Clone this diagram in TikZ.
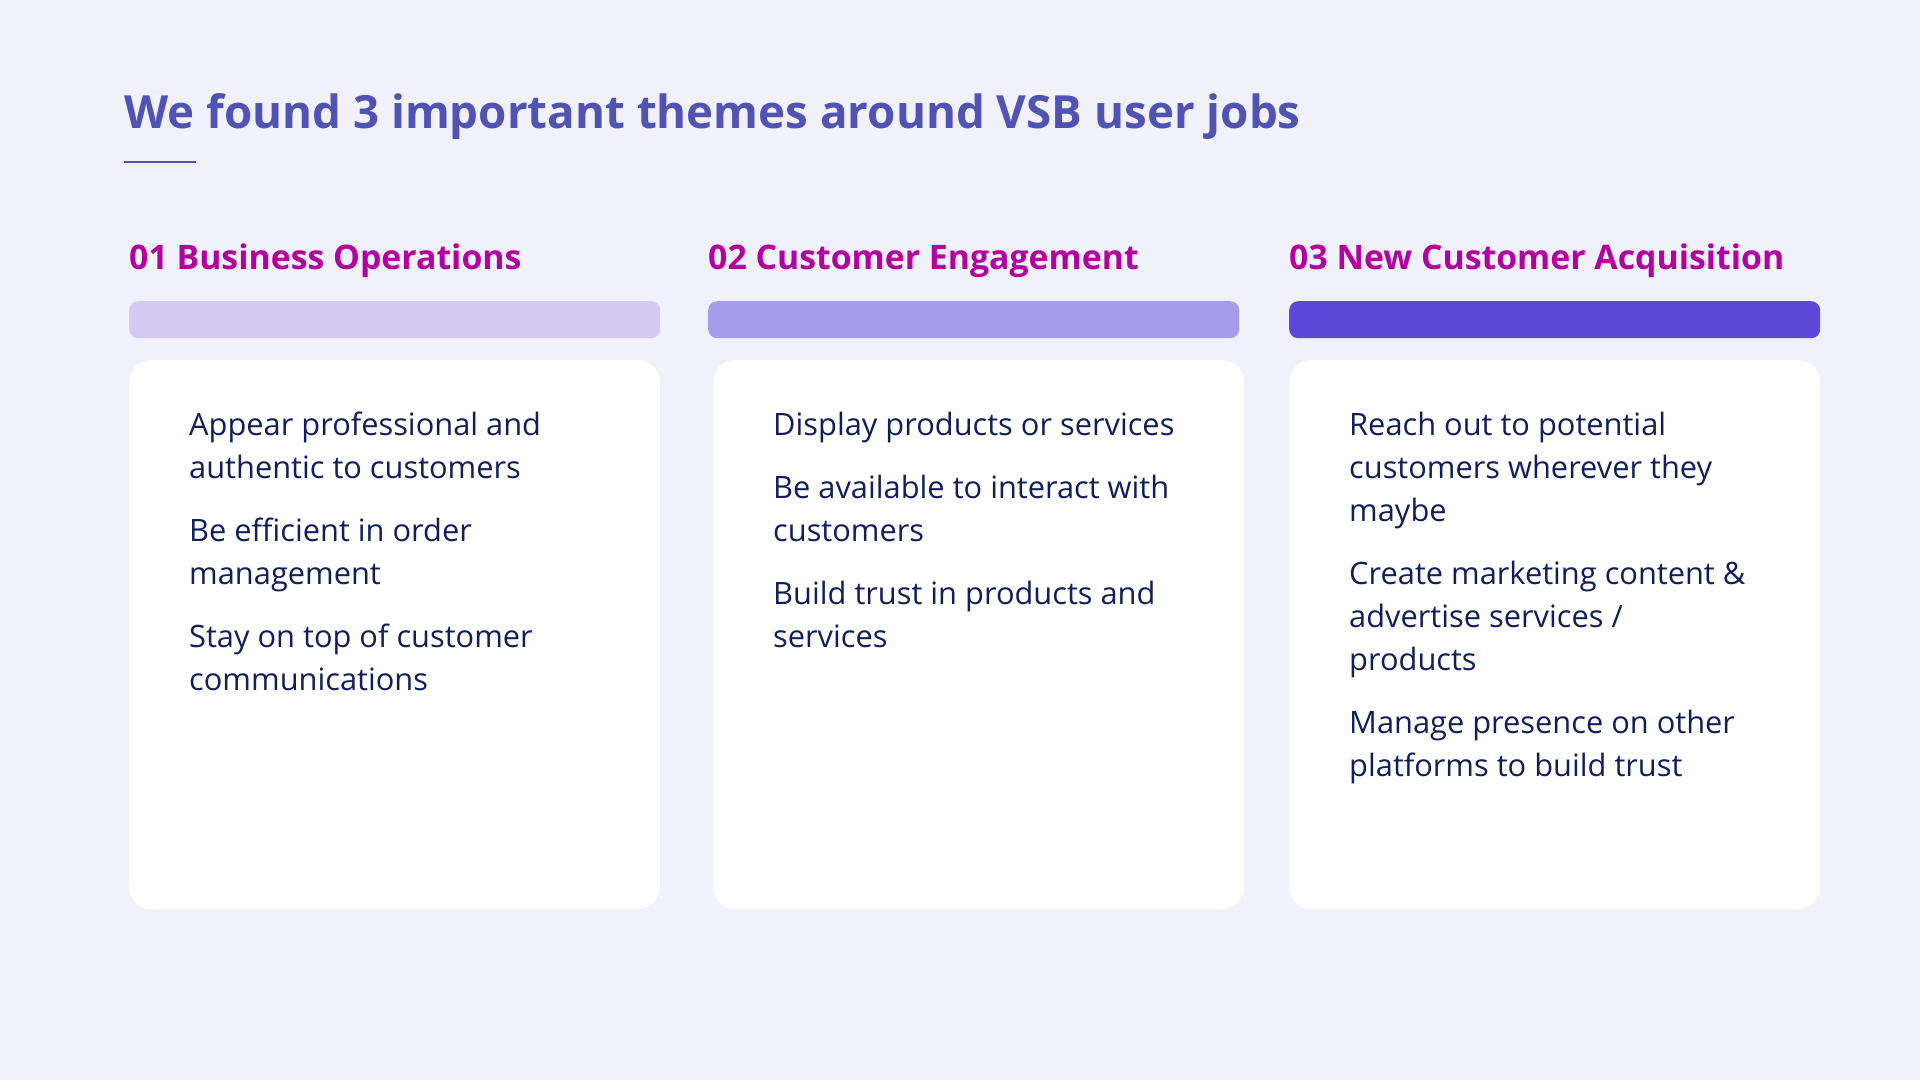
\documentclass[tikz,border=0pt]{standalone}
\usepackage{fontspec}
\setmainfont{Open Sans}
\definecolor{bgc}{RGB}{241,241,252}
\definecolor{titlec}{RGB}{80,82,180}
\definecolor{headc}{RGB}{180,0,158}
\definecolor{textc}{RGB}{16,31,92}
\definecolor{barone}{RGB}{211,203,243}
\definecolor{bartwo}{RGB}{167,156,235}
\definecolor{barthree}{RGB}{92,71,217}
\tikzset{
  titletext/.style={anchor=base west, inner sep=0pt, text=titlec, font=\fontsize{45.7}{56}\selectfont\bfseries},
  headtext/.style={anchor=base west, inner sep=0pt, text=headc, font=\fontsize{33.8}{44}\selectfont\bfseries},
  bartile/.style={anchor=north west, inner sep=0pt, rounded corners=9pt, minimum width=531pt, minimum height=37pt},
  cardbox/.style={anchor=north west, inner sep=0pt, fill=white, rounded corners=22pt, minimum width=531pt, minimum height=549pt},
  itemtext/.style={anchor=base west, inner sep=0pt, align=left, text=textc, font=\fontsize{30.8}{43}\selectfont},
}
\begin{document}
\begin{tikzpicture}[x=1pt,y=-1pt]
\fill[bgc] (0,0) rectangle (1920,1080);
\useasboundingbox (0,0) rectangle (1920,1080);
\node[titletext] (title) at (124,128) {We found 3 important themes around VSB user jobs};
\coordinate (ulA) at (124,162);
\coordinate (ulB) at (196,162);
\draw[titlec, line width=2pt] (ulA) -- (ulB);
% column 1 (anchors sit on the baseline of each item's last line)
\node[headtext] (h1) at (129,269) {01 Business Operations};
\node[bartile, fill=barone] (b1) at (129,301) {};
\node[cardbox] (c1) at (129,360) {};
\node[itemtext] (i11) at (189,478) {Appear professional and\\authentic to customers};
\node[itemtext] (i12) at (189,584) {Be efficient in order\\management};
\node[itemtext] (i13) at (189,690) {Stay on top of customer\\communications};
% column 2
\node[headtext] (h2) at (708,269) {02 Customer Engagement};
\node[bartile, fill=bartwo] (b2) at (708,301) {};
\node[cardbox] (c2) at (713,360) {};
\node[itemtext] (i21) at (773,435) {Display products or services};
\node[itemtext] (i22) at (773,541) {Be available to interact with\\customers};
\node[itemtext] (i23) at (773,647) {Build trust in products and\\services};
% column 3
\node[headtext] (h3) at (1289,269) {03 New Customer Acquisition};
\node[bartile, fill=barthree] (b3) at (1289,301) {};
\node[cardbox] (c3) at (1289,360) {};
\node[itemtext] (i31) at (1349,521) {Reach out to potential\\customers wherever they\\maybe};
\node[itemtext] (i32) at (1349,670) {Create marketing content \&\\advertise services /\\products};
\node[itemtext] (i33) at (1349,776) {Manage presence on other\\platforms to build trust};
\end{tikzpicture}
\end{document}
